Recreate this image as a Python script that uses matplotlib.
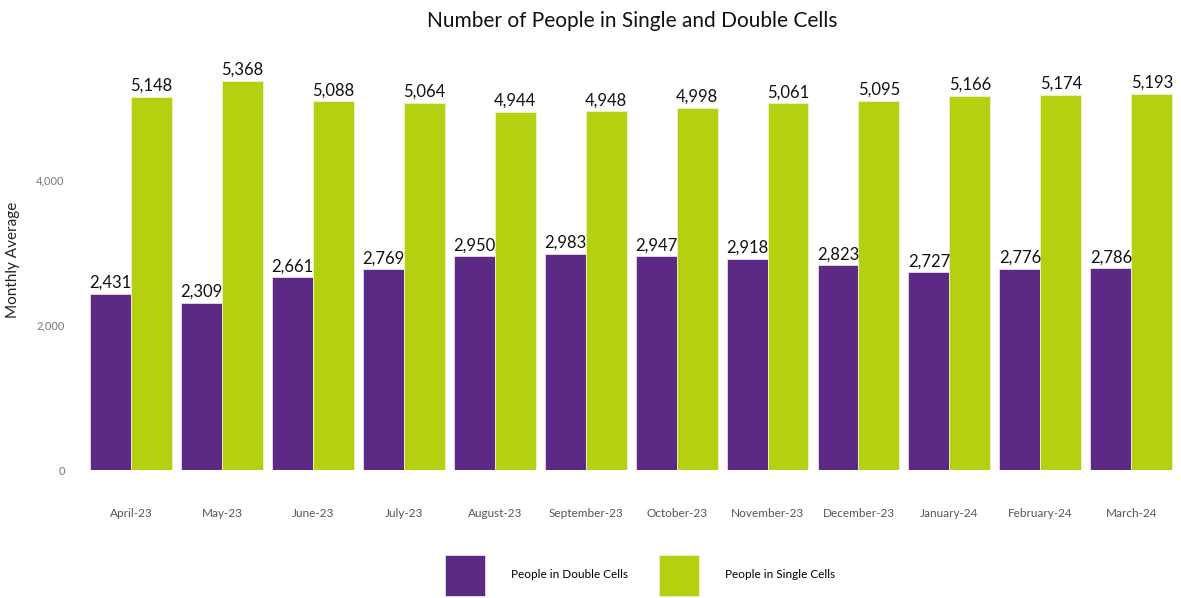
import matplotlib
matplotlib.use("Agg")
import matplotlib.pyplot as plt
import numpy as np

months = ["April-23", "May-23", "June-23", "July-23", "August-23", "September-23",
          "October-23", "November-23", "December-23", "January-24", "February-24", "March-24"]
double_cells = [2431, 2309, 2661, 2769, 2950, 2983, 2947, 2918, 2823, 2727, 2776, 2786]
single_cells = [5148, 5368, 5088, 5064, 4944, 4948, 4998, 5061, 5095, 5166, 5174, 5193]
y_ticks = [0, 2000, 4000]

purple = "#5C2A84"
green = "#B5CF11"

plt.rcParams['font.family'] = ['Lato', 'DejaVu Sans']

fig = plt.figure(figsize=(11.81, 5.98), dpi=100)
ax = fig.add_axes([0.0724, 0.214, 0.924, 0.703])

x = np.arange(len(months))
w = 0.45
b1 = ax.bar(x - w/2, double_cells, width=w, color=purple, edgecolor="#e8e0ee", linewidth=0.6,
            label="People in Double Cells")
b2 = ax.bar(x + w/2, single_cells, width=w, color=green, edgecolor="#eef3cc", linewidth=0.6,
            label="People in Single Cells")

for bars in (b1, b2):
    for r in bars:
        v = r.get_height()
        ax.text(r.get_x() + r.get_width()/2, v + 40, f"{int(v):,}", ha="center", va="bottom",
                fontsize=12, color="#111111")

ax.set_xlim(-0.5, len(months) - 0.5)
ax.set_ylim(0, 5800)
ax.set_xticks(x)
ax.set_xticklabels(months, fontsize=8.5, color="#555555")
ax.set_yticks(y_ticks)
ax.set_yticklabels([f"{t:,}" for t in y_ticks], fontsize=8, color="#777777")
ax.tick_params(axis="x", length=0, pad=27)
ax.tick_params(axis="y", length=0, pad=15)
for s in ax.spines.values():
    s.set_visible(False)
ax.set_ylabel("Monthly Average", fontsize=11, color="#222222", labelpad=12)

fig.suptitle("Number of People in Single and Double Cells", fontsize=15, color="#111111",
             x=0.535, y=0.982)

fig.legend(handles=[b1, b2], loc="upper center", bbox_to_anchor=(0.542, 0.09), ncol=2,
           frameon=False, fontsize=8.5, handlelength=3.4, handleheight=5,
           columnspacing=2.6, handletextpad=2.2)

fig.savefig("out.png", dpi=100)
